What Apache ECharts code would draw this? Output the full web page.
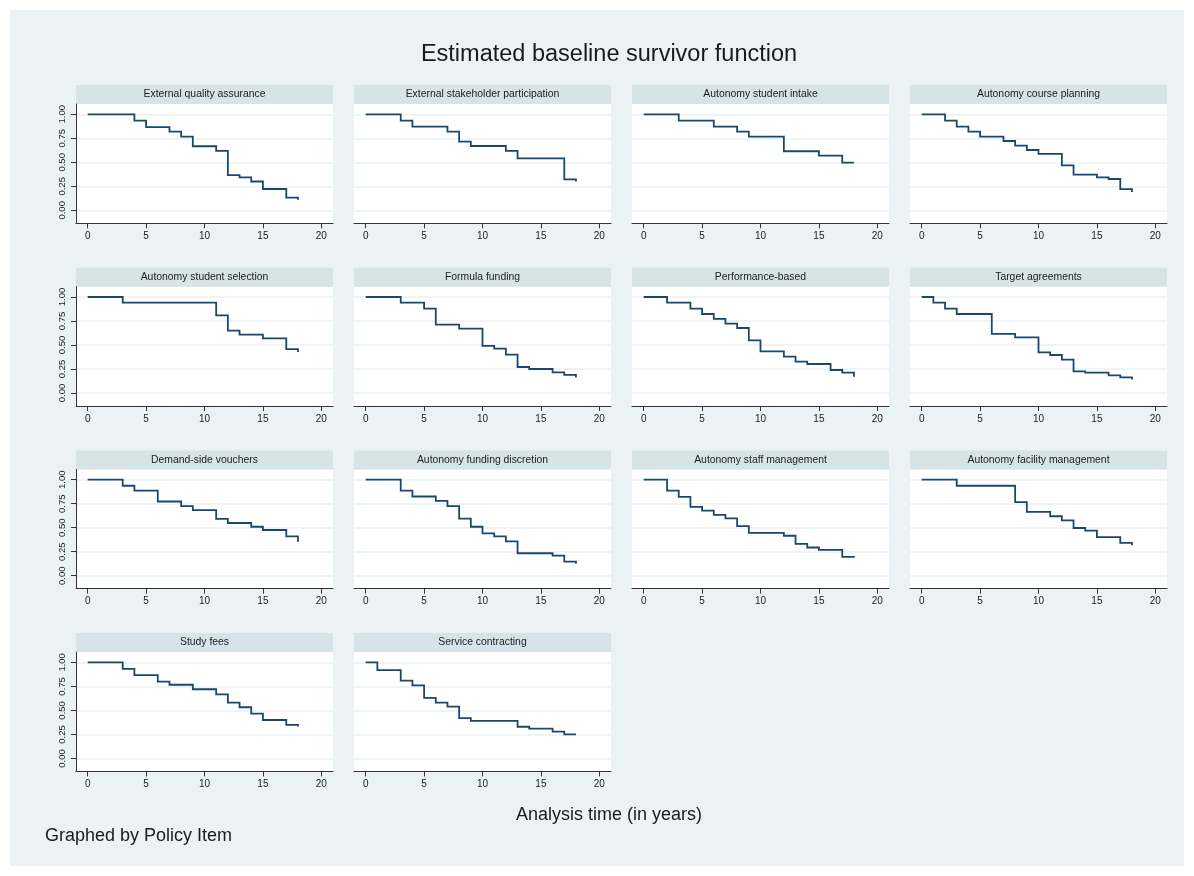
<!DOCTYPE html>
<html>
<head>
<meta charset="utf-8">
<title>Estimated baseline survivor function</title>
<script src="https://cdn.jsdelivr.net/npm/echarts@6/dist/echarts.min.js"></script>
<style>
  html, body { margin: 0; padding: 0; background: #ffffff; }
  #chart { width: 1194px; height: 876px; }
</style>
</head>
<body>
<div id="chart"></div>
<script>
// Tick values shared by every panel
const xTicks = [0, 5, 10, 15, 20];
const yTicks = [0, 0.25, 0.5, 0.75, 1];

// Panel titles, in reading order
const panelTitles = [
  'External quality assurance', 'External stakeholder participation',
  'Autonomy student intake', 'Autonomy course planning',
  'Autonomy student selection', 'Formula funding',
  'Performance-based', 'Target agreements',
  'Demand-side vouchers', 'Autonomy funding discretion',
  'Autonomy staff management', 'Autonomy facility management',
  'Study fees', 'Service contracting'
];

// Baseline survivor estimates: [analysis time (years), S(t)]
const externalQualityAssurance = [[0,1],[4,0.933],[5,0.867],[7,0.82],[8,0.767],[9,0.667],[11,0.62],[12,0.367],[13,0.344],[14,0.30],[15,0.222],[17,0.133],[18,0.11]];
const externalStakeholder = [[0,1],[3,0.934],[4,0.871],[7,0.82],[8,0.715],[9,0.67],[12,0.62],[13,0.54],[17,0.323],[18,0.30]];
const studentIntake = [[0,1],[3,0.934],[6,0.871],[8,0.82],[9,0.767],[12,0.615],[15,0.57],[17,0.497],[18,0.497]];
const coursePlanning = [[0,1],[2,0.934],[3,0.871],[4,0.82],[5,0.767],[7,0.722],[8,0.674],[9,0.628],[10,0.587],[12,0.469],[13,0.372],[15,0.344],[16,0.326],[17,0.22],[18,0.19]];
const studentSelection = [[0,1],[3,0.941],[11,0.809],[12,0.649],[13,0.608],[15,0.569],[17,0.458],[18,0.427]];
const formulaFunding = [[0,1],[3,0.941],[5,0.878],[6,0.712],[8,0.67],[10,0.49],[11,0.462],[12,0.40],[13,0.271],[14,0.25],[16,0.215],[17,0.188],[18,0.163]];
const performanceBased = [[0,1],[2,0.941],[4,0.878],[5,0.823],[6,0.771],[7,0.722],[8,0.677],[9,0.549],[10,0.434],[12,0.378],[13,0.326],[14,0.302],[16,0.24],[17,0.212],[18,0.17]];
const targetAgreements = [[0,1],[1,0.941],[2,0.878],[3,0.823],[6,0.615],[8,0.58],[10,0.424],[11,0.396],[12,0.347],[13,0.226],[14,0.212],[16,0.184],[17,0.163],[18,0.142]];
const demandVouchers = [[0,1],[3,0.937],[4,0.885],[6,0.773],[8,0.724],[9,0.682],[11,0.591],[12,0.549],[14,0.51],[15,0.476],[17,0.409],[18,0.353]];
const fundingDiscretion = [[0,1],[3,0.885],[4,0.825],[6,0.78],[7,0.724],[8,0.594],[9,0.51],[10,0.44],[11,0.409],[12,0.357],[13,0.234],[16,0.21],[17,0.147],[18,0.126]];
const staffManagement = [[0,1],[2,0.885],[3,0.822],[4,0.717],[5,0.678],[6,0.633],[7,0.598],[8,0.517],[9,0.447],[12,0.416],[13,0.332],[14,0.294],[15,0.269],[17,0.196],[18,0.189]];
const facilityManagement = [[0,1],[3,0.937],[8,0.766],[9,0.664],[11,0.619],[12,0.577],[13,0.497],[14,0.469],[15,0.402],[17,0.343],[18,0.318]];
const studyFees = [[0,1],[3,0.933],[4,0.867],[6,0.80],[7,0.767],[9,0.72],[11,0.667],[12,0.58],[13,0.533],[14,0.467],[15,0.40],[17,0.35],[18,0.333]];
const serviceContracting = [[0,1],[1,0.92],[3,0.81],[4,0.76],[5,0.63],[6,0.58],[7,0.54],[8,0.42],[9,0.39],[13,0.33],[14,0.31],[16,0.28],[17,0.25],[18,0.25]];

const panelData = [
  externalQualityAssurance, externalStakeholder, studentIntake, coursePlanning,
  studentSelection, formulaFunding, performanceBased, targetAgreements,
  demandVouchers, fundingDiscretion, staffManagement, facilityManagement,
  studyFees, serviceContracting
];

// Layout of the small-multiple grid
const FONT = '"Liberation Sans", Arial, Helvetica, sans-serif';
const COLS = 4;
const firstLeft = 76, colPitch = 278, panelWidth = 257;
const firstTop = 85, rowPitch = 182.7, stripHeight = 19, plotHeight = 119.3;
const lineColor = '#1a476f';
const stripColor = '#d6e4e8';
const regionColor = '#eaf2f3';

// Kaplan-Meier style step curve: each drop is drawn as a vertical edge,
// however small, so a plain polyline is built from the axis coordinates.
function renderStepCurve(data) {
  return function (params, api) {
    if (params.dataIndex !== 0) return null;
    const pts = [api.coord(data[0])];
    for (let k = 1; k < data.length; k++) {
      pts.push(api.coord([data[k][0], data[k - 1][1]]));
      pts.push(api.coord(data[k]));
    }
    return {
      type: 'polyline',
      shape: { points: pts },
      style: { stroke: lineColor, lineWidth: 1.8, fill: null, lineJoin: 'miter' },
      silent: true
    };
  };
}

const grids = [], xAxes = [], yAxes = [], series = [], graphics = [];

graphics.push({
  type: 'rect', z: -10, silent: true,
  shape: { x: 10, y: 10, width: 1174, height: 856 },
  style: { fill: regionColor }
});

panelData.forEach((data, i) => {
  const col = i % COLS, row = Math.floor(i / COLS);
  const left = firstLeft + col * colPitch;
  const stripTop = firstTop + row * rowPitch;
  const plotTop = stripTop + stripHeight;

  grids.push({
    left: left, top: plotTop, width: panelWidth, height: plotHeight,
    show: true, backgroundColor: '#ffffff', borderWidth: 0
  });

  xAxes.push({
    type: 'value', gridIndex: i, min: -1, max: 21,
    axisLine: { show: true, onZero: false, lineStyle: { color: '#333333', width: 1 } },
    axisTick: { show: true, customValues: xTicks, length: 5, lineStyle: { color: '#333333' } },
    axisLabel: { customValues: xTicks, margin: 8, fontSize: 10, color: '#222222', fontFamily: FONT },
    splitLine: { show: false }
  });

  const labelled = col === 0;
  yAxes.push({
    type: 'value', gridIndex: i, min: -0.135, max: 1.107,
    axisLine: { show: labelled, onZero: false, lineStyle: { color: '#333333', width: 1 } },
    axisTick: { show: labelled, customValues: yTicks, length: 5, lineStyle: { color: '#333333' } },
    axisLabel: {
      show: labelled, customValues: yTicks, rotate: 90, margin: 9,
      fontSize: 9.5, color: '#222222', fontFamily: FONT,
      formatter: v => v.toFixed(2)
    },
    splitLine: { show: true, lineStyle: { color: regionColor, width: 1.5 } }
  });

  series.push({
    type: 'custom', xAxisIndex: i, yAxisIndex: i,
    renderItem: renderStepCurve(data),
    encode: { x: 0, y: 1 },
    data: data, animation: false, silent: true, clip: true
  });

  graphics.push({
    type: 'rect', silent: true,
    shape: { x: left, y: stripTop, width: panelWidth, height: stripHeight },
    style: { fill: stripColor }
  });
  graphics.push({
    type: 'text', silent: true,
    x: left + panelWidth / 2, y: stripTop + stripHeight / 2,
    style: {
      text: panelTitles[i], fill: '#222222', font: '10.4px ' + FONT,
      align: 'center', verticalAlign: 'middle'
    }
  });
});

graphics.push({
  type: 'text', silent: true, x: 609, y: 55,
  style: { text: 'Estimated baseline survivor function', fill: '#1a1a1a',
    font: '23.5px ' + FONT, align: 'center', verticalAlign: 'middle' }
});
graphics.push({
  type: 'text', silent: true, x: 609, y: 815,
  style: { text: 'Analysis time (in years)', fill: '#1a1a1a',
    font: '18px ' + FONT, align: 'center', verticalAlign: 'middle' }
});
graphics.push({
  type: 'text', silent: true, x: 45, y: 836,
  style: { text: 'Graphed by Policy Item', fill: '#1a1a1a',
    font: '18px ' + FONT, align: 'left', verticalAlign: 'middle' }
});

const chart = echarts.init(document.getElementById('chart'), null, { renderer: 'canvas' });
chart.setOption({
  backgroundColor: '#ffffff',
  animation: false,
  grid: grids,
  xAxis: xAxes,
  yAxis: yAxes,
  series: series,
  graphic: graphics
});
</script>
</body>
</html>
